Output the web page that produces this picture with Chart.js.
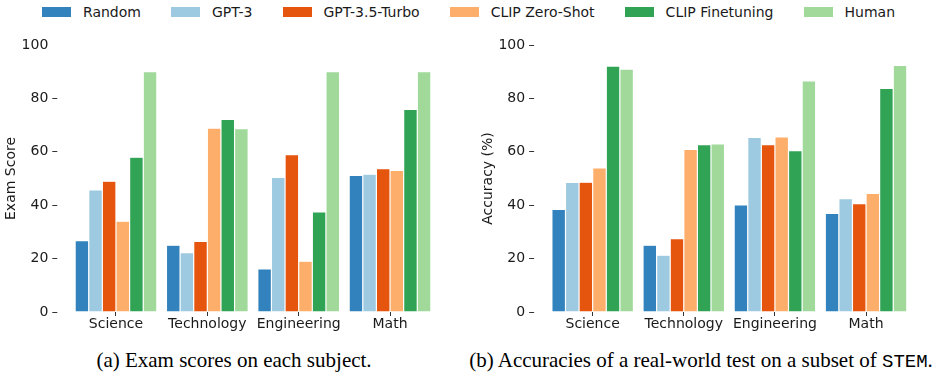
<!DOCTYPE html>
<html>
<head>
<meta charset="utf-8">
<script src="https://cdn.jsdelivr.net/npm/chart.js@4"></script>
<style>
  body { margin: 0; width: 936px; height: 376px; background: #fff; position: relative; overflow: hidden; font-family: "DejaVu Sans", sans-serif; }
  #legend { position: absolute; left: 42px; top: 3px; display: flex; align-items: center; height: 18px; }
  .item { display: flex; align-items: center; margin-right: 30px; font-size: 14px; color: #1a1a1a; }
  .box { width: 29px; height: 10px; margin-right: 12px; }
  .chart { position: absolute; top: 0; height: 345px; }
  .cap { position: absolute; top: 350px; font-family: "Liberation Serif", serif; font-size: 21px; line-height: 21px; text-align: center; color: #000; }
  .cap tt { font-family: "Liberation Mono", monospace; font-size: 19px; }
</style>
</head>
<body>
<div id="legend"></div>
<div class="chart" style="left:0;width:466px"><canvas id="graficoExam"></canvas></div>
<div class="chart" style="left:466px;width:470px"><canvas id="graficoAcc"></canvas></div>
<div class="cap" style="left:0;width:468px">(a) Exam scores on each subject.</div>
<div class="cap" style="left:466px;width:470px">(b) Accuracies of a real-world test on a subset of <tt>STEM</tt>.</div>

<script>
const subjects = ['Science', 'Technology', 'Engineering', 'Math'];
const models = ['Random', 'GPT-3', 'GPT-3.5-Turbo', 'CLIP Zero-Shot', 'CLIP Finetuning', 'Human'];

// (a) exam scores
const examRandom = [26.7, 25.0, 16.1, 51.2];
const examGpt3 = [45.7, 22.2, 50.4, 51.6];
const examGpt35 = [49.0, 26.4, 58.9, 53.7];
const examClipZs = [34.0, 68.9, 19.0, 53.0];
const examClipFt = [58.0, 72.1, 37.5, 75.9];
const examHuman = [90.0, 68.7, 90.0, 90.0];

// (b) accuracies
const accRandom = [38.4, 25.0, 40.1, 36.9];
const accGpt3 = [48.5, 21.3, 65.4, 42.5];
const accGpt35 = [48.6, 27.5, 62.7, 40.6];
const accClipZs = [54.0, 60.9, 65.6, 44.4];
const accClipFt = [92.1, 62.7, 60.4, 83.7];
const accHuman = [91.0, 63.0, 86.6, 92.4];

const colores = ['#3182bd', '#9ecae1', '#e6550d', '#fdae6b', '#31a354', '#a1d99b'];

// leyenda compartida
const legend = document.getElementById('legend');
models.forEach((m, i) => {
  const it = document.createElement('div');
  it.className = 'item';
  it.innerHTML = `<span class="box" style="background:${colores[i]}"></span><span>${m}</span>`;
  legend.appendChild(it);
});

const font = { family: 'DejaVu Sans', size: 14 };

function crearGrafico(id, series, yTitle, areaLeft, padRight, titlePad, hideTop) {
  const ctx = document.getElementById(id).getContext('2d');
  return new Chart(ctx, {
    type: 'bar',
    data: {
      labels: subjects,
      datasets: series.map((d, i) => ({
        label: models[i],
        data: d,
        backgroundColor: colores[i],
        borderColor: 'rgba(255,255,255,0.5)',
        borderWidth: 0.6,
        barPercentage: 1,
        categoryPercentage: 0.895
      }))
    },
    options: {
      responsive: true,
      maintainAspectRatio: false,
      animation: false,
      devicePixelRatio: 1,
      layout: { padding: { top: 45, right: padRight, left: 0, bottom: 0 } },
      plugins: { legend: { display: false }, tooltip: { enabled: false } },
      scales: {
        x: {
          grid: { offset: false, drawOnChartArea: false, tickLength: 4, tickColor: '#333' },
          border: { display: false },
          ticks: { font: font, color: '#1a1a1a', padding: 0 },
          afterFit: s => { s.height = 33; }
        },
        y: {
          min: 0,
          max: 100,
          ticks: { stepSize: 20, font: font, color: '#1a1a1a', padding: 4 },
          grid: {
            drawOnChartArea: false,
            tickLength: 18,
            tickBorderDash: [5, 100],
            tickColor: c => (hideTop && c.tick && c.tick.value === 100) ? 'rgba(0,0,0,0)' : '#333'
          },
          border: { display: false },
          title: { display: true, text: yTitle, font: font, color: '#1a1a1a', padding: { top: titlePad, bottom: 0 } },
          afterFit: s => { s.width = areaLeft; }
        }
      }
    }
  });
}

crearGrafico('graficoExam',
  [examRandom, examGpt3, examGpt35, examClipZs, examClipFt, examHuman],
  'Exam Score', 70.3, 30.3, 2.6, true);
crearGrafico('graficoAcc',
  [accRandom, accGpt3, accGpt35, accClipZs, accClipFt, accHuman],
  'Accuracy (%)', 81.1, 24.4, 13.6, false);
</script>
</body>
</html>
